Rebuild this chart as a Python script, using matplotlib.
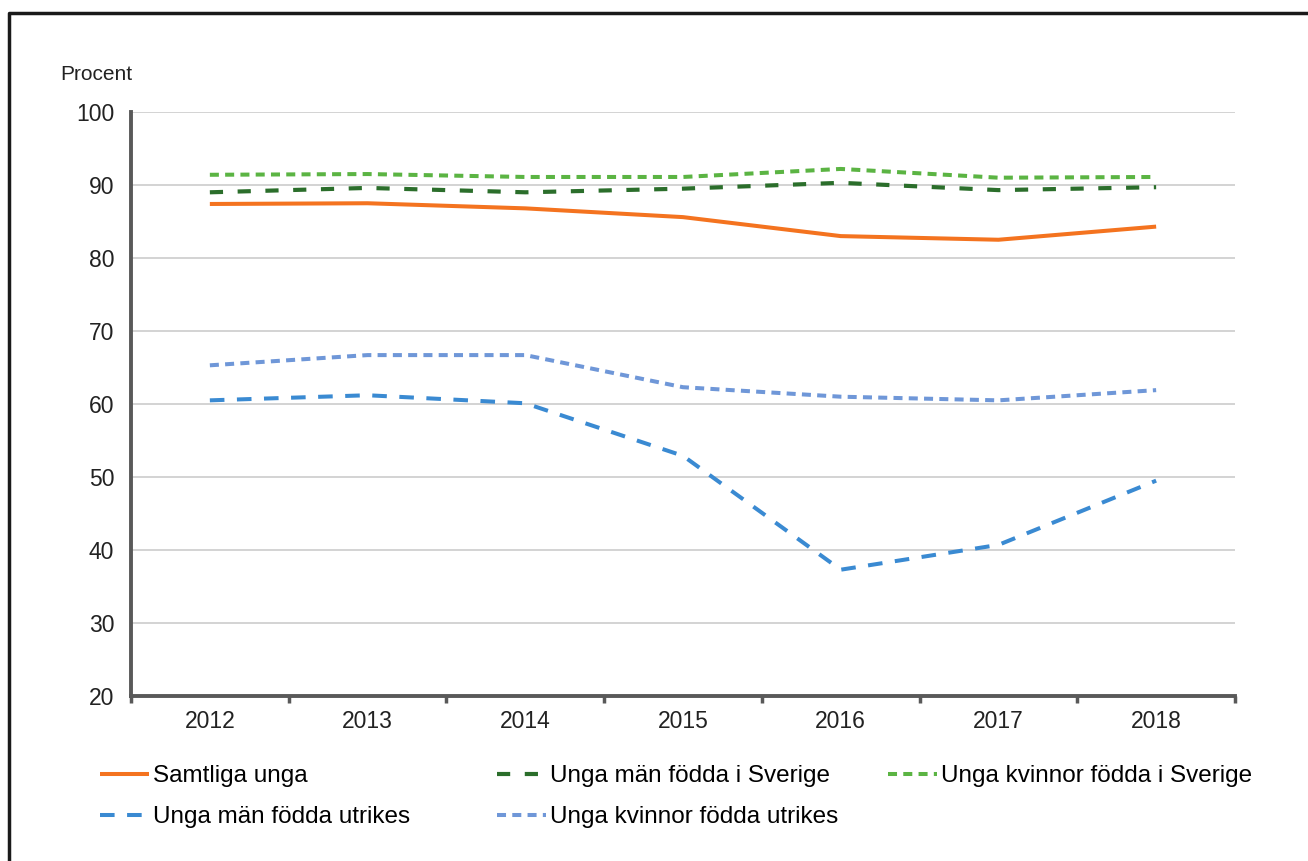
import matplotlib
matplotlib.use("Agg")
import matplotlib.pyplot as plt
from matplotlib.lines import Line2D
import numpy as np

plt.rcParams['font.family'] = ['Liberation Sans', 'DejaVu Sans']
plt.rcParams['lines.scale_dashes'] = False

years = ["2012", "2013", "2014", "2015", "2016", "2017", "2018"]
samtliga = [87.4, 87.5, 86.8, 85.6, 83.0, 82.5, 84.3]
man_sverige = [89.0, 89.6, 89.0, 89.5, 90.3, 89.3, 89.7]
kvinnor_sverige = [91.4, 91.5, 91.1, 91.1, 92.2, 91.0, 91.1]
man_utrikes = [60.5, 61.2, 60.1, 52.9, 37.3, 40.7, 49.5]
kvinnor_utrikes = [65.3, 66.7, 66.7, 62.3, 61.0, 60.5, 61.9]

labels = ["Samtliga unga", "Unga män födda i Sverige", "Unga kvinnor födda i Sverige",
          "Unga män födda utrikes", "Unga kvinnor födda utrikes"]
yticks = [20, 30, 40, 50, 60, 70, 80, 90, 100]

W, H = 1308, 861
fig = plt.figure(figsize=(W / 100, H / 100), dpi=100)
ax = fig.add_axes([131 / W, 1 - 696 / H, (1235 - 131) / W, (696 - 112) / H])

x = np.arange(len(years))
l1, = ax.plot(x, samtliga, color="#F4731F", lw=2.9, solid_capstyle='butt')
l2, = ax.plot(x, man_sverige, color="#2B6E2B", lw=3.0, dashes=(9.5, 10.5))
l3, = ax.plot(x, kvinnor_sverige, color="#5BB443", lw=2.9, dashes=(6.5, 4.5))
l4, = ax.plot(x, man_utrikes, color="#3A8AD2", lw=2.9, dashes=(10.5, 9.0))
l5, = ax.plot(x, kvinnor_utrikes, color="#6F97D8", lw=2.9, dashes=(6.5, 4.5))

ax.set_xlim(-0.5, len(years) - 0.5)
ax.set_ylim(20, 100)
ax.set_yticks(yticks)
ax.set_yticklabels([str(v) for v in yticks], fontsize=16.5, color="#222222")
ax.set_xticks(x)
ax.set_xticklabels(years, fontsize=16.5, color="#222222")
ax.tick_params(axis='x', which='major', length=0, pad=10)
ax.set_xticks(np.arange(-0.5, len(years), 1.0), minor=True)
ax.tick_params(axis='x', which='minor', length=5, width=2.5, color="#595959", direction='out')
ax.tick_params(axis='y', length=0, pad=12)
ax.grid(axis='y', color="#d0d0d0", lw=1.3)
ax.set_axisbelow(True)
for s in ['top', 'right']:
    ax.spines[s].set_visible(False)
for s in ['left', 'bottom']:
    ax.spines[s].set_color("#595959")
    ax.spines[s].set_linewidth(2.8)

fig.text(60 / W, 1 - 74 / H, "Procent", fontsize=15, ha='left', va='center', color="#222222")

handles = [l1, l2, l3, l4, l5]
cols = [([0, 3], 100), ([1, 4], 497), ([2], 888)]
for idx, xpos in cols:
    fig.legend([handles[i] for i in idx], [labels[i] for i in idx],
               loc='upper left', bbox_to_anchor=(xpos / W, 1 - 765 / H),
               frameon=False, fontsize=17.5, handlelength=2.0, handletextpad=0.18,
               labelspacing=0.8, borderpad=0, borderaxespad=0)

# outer frame
fig.add_artist(Line2D([8.5 / W, 8.5 / W, 1.0], [0, 1 - 12.5 / H, 1 - 12.5 / H],
                      transform=fig.transFigure, color="#1a1a1a", lw=2.5))

fig.savefig("out.png", dpi=100)
